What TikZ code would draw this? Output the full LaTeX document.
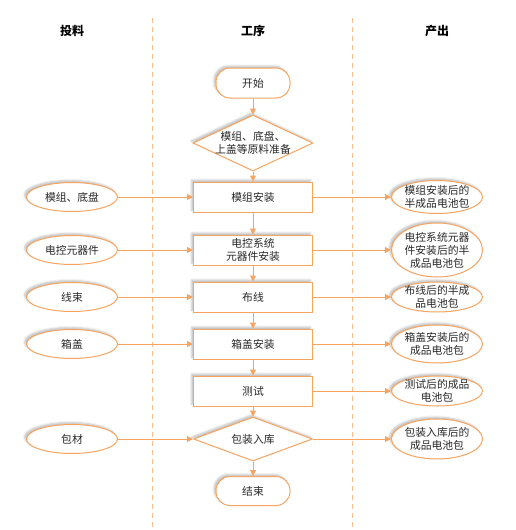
\documentclass[tikz,border=0pt]{standalone}
\usepackage{fontspec}
\setmainfont{Noto Sans CJK SC}
\usetikzlibrary{shapes.geometric, arrows.meta, shadows.blur}
\definecolor{oc}{RGB}{246,164,96}
\definecolor{dc}{RGB}{248,190,145}
\definecolor{tc}{RGB}{40,40,40}
\newcommand{\txtfont}{\fontsize{10.8}{13}\selectfont}
\tikzset{
  shd/.style={blur shadow={shadow xshift=-2pt, shadow yshift=2pt, shadow blur steps=4, shadow opacity=25, shadow blur radius=2pt}},
  procbox/.style={draw=oc, fill=white, line width=1pt, minimum width=119pt, minimum height=30pt, inner sep=0pt, shd, font=\txtfont, text=tc, align=center},
  termbox/.style={procbox, minimum width=74pt, rounded corners=14pt},
  diabox/.style={diamond, draw=oc, fill=white, line width=1pt, minimum width=120pt, minimum height=56pt, inner sep=0pt, shd},
  ellbox/.style={ellipse, draw=oc, fill=white, line width=1pt, minimum width=91pt, inner sep=0pt, shd},
  lab/.style={font=\txtfont, align=center, text=tc, inner sep=0pt},
  head/.style={font=\fontsize{12}{14}\selectfont\bfseries, text=black},
  arr/.style={draw=oc, line width=1pt, -{Triangle[length=6pt,width=6pt]}},
  lane/.style={draw=dc, line width=1pt, dash pattern=on 5pt off 4pt}
}
\begin{document}
\begin{tikzpicture}[x=1pt,y=-1pt]
\useasboundingbox (0,0) rectangle (516,530);
% lanes
\coordinate (la1) at (152,18); \coordinate (la2) at (152,530);
\coordinate (lb1) at (352,18); \coordinate (lb2) at (352,530);
\draw[lane] (la1) -- (la2);
\draw[lane] (lb1) -- (lb2);
% headers
\node[head] (h1) at (72,31) {投料};
\node[head] (h2) at (253,31) {工序};
\node[head] (h3) at (437,31) {产出};
% process column
\node[termbox] (s) at (253,83) {开始};
\node[diabox] (d1) at (253,143) {};
\node[lab] (d1t) at (253,143) {模组、底盘、\\上盖等原料准备};
\node[procbox] (b1) at (253,197) {模组安装};
\node[procbox] (b2) at (253,250) {电控系统\\元器件安装};
\node[procbox] (b3) at (253,297) {布线};
\node[procbox] (b4) at (253,344) {箱盖安装};
\node[procbox] (b5) at (253,391) {测试};
\node[diabox, minimum width=119pt, minimum height=44pt] (d2) at (253,439) {};
\node[lab] (d2t) at (253,439) {包装入库};
\node[termbox, minimum height=29pt] (e) at (253,491) {结束};
% inputs
\node[ellbox, minimum height=29pt] (l1) at (72,197) {};
\node[lab] (l1t) at (72,197) {模组、底盘};
\node[ellbox, minimum height=29pt] (l2) at (72,250) {};
\node[lab] (l2t) at (72,250) {电控元器件};
\node[ellbox, minimum height=29pt] (l3) at (72,297) {};
\node[lab] (l3t) at (72,297) {线束};
\node[ellbox, minimum height=29pt] (l4) at (72,344) {};
\node[lab] (l4t) at (72,344) {箱盖};
\node[ellbox, minimum height=29pt] (l5) at (72,439) {};
\node[lab] (l5t) at (72,439) {包材};
% outputs
\node[ellbox, minimum height=33pt] (r1) at (437,197) {};
\node[lab] (r1t) at (437,197) {模组安装后的\\半成品电池包};
\node[ellbox, minimum height=54pt] (r2) at (437,250) {};
\node[lab] (r2t) at (437,250) {电控系统元器\\件安装后的半\\成品电池包};
\node[ellbox, minimum height=30pt] (r3) at (437,297) {};
\node[lab] (r3t) at (437,297) {布线后的半成\\品电池包};
\node[ellbox, minimum height=38pt] (r4) at (437,344) {};
\node[lab] (r4t) at (437,344) {箱盖安装后的\\成品电池包};
\node[ellbox, minimum height=30pt] (r5) at (437,391) {};
\node[lab] (r5t) at (437,391) {测试后的成品\\电池包};
\node[ellbox, minimum height=40pt] (r6) at (437,439) {};
\node[lab] (r6t) at (437,439) {包装入库后的\\成品电池包};
% vertical flow
\draw[arr] (s) -- (d1.north);
\draw[arr] (d1.south) -- (b1);
\draw[arr] (b1) -- (b2);
\draw[arr] (b2) -- (b3);
\draw[arr] (b3) -- (b4);
\draw[arr] (b4) -- (b5);
\draw[arr] (b5) -- (d2.north);
\draw[arr] (d2.south) -- (e);
% inputs
\draw[arr] (l1) -- (b1);
\draw[arr] (l2) -- (b2);
\draw[arr] (l3) -- (b3);
\draw[arr] (l4) -- (b4);
\draw[arr] (l5) -- (d2.west);
% outputs
\draw[arr] (b1) -- (r1);
\draw[arr] (b2) -- (r2);
\draw[arr] (b3) -- (r3);
\draw[arr] (b4) -- (r4);
\draw[arr] (b5) -- (r5);
\draw[arr] (d2.east) -- (r6);
\end{tikzpicture}
\end{document}
